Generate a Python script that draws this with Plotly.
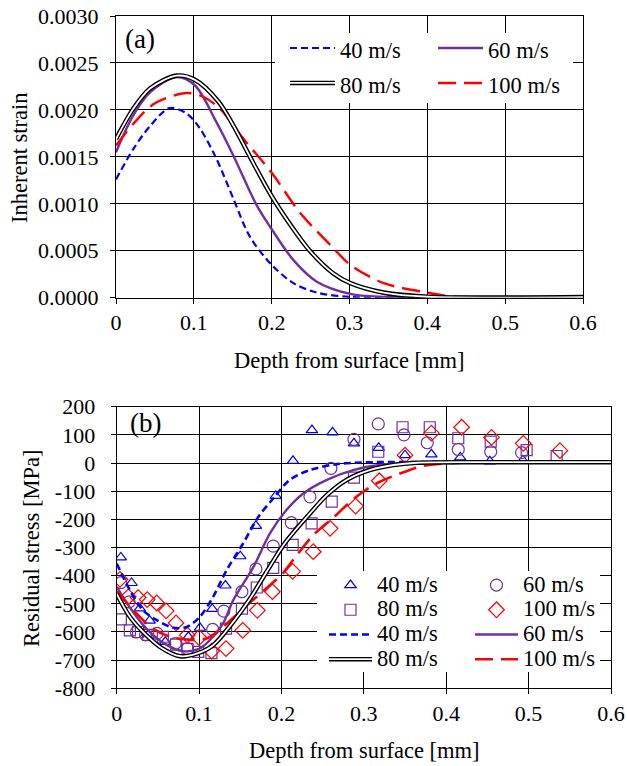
import plotly.graph_objects as go

# ---------------- panel (a): inherent strain ----------------
depth_a_40 = [0, 0.022, 0.044, 0.069, 0.091, 0.108, 0.129, 0.151, 0.172, 0.200, 0.228, 0.258, 0.300, 0.350, 0.600]
strain_40 = [0.00126, 0.00158, 0.00183, 0.00202, 0.00196, 0.00180, 0.00148, 0.00105, 0.00065, 0.00035, 0.000155, 0.000054, 0.000008, 0.000004, 0.000004]

depth_a_60 = [0, 0.022, 0.044, 0.078, 0.1015, 0.129, 0.151, 0.181, 0.200, 0.228, 0.258, 0.301, 0.344, 0.400, 0.600]
strain_60 = [0.00155, 0.00194, 0.00219, 0.00235, 0.00226, 0.00187, 0.00151, 0.00098, 0.00073, 0.00040, 0.00017, 0.00004, 0.000008, 0.000005, 0.000005]

depth_a_80 = [0, 0.022, 0.044, 0.078, 0.1015, 0.1315, 0.151, 0.176, 0.200, 0.228, 0.249, 0.279, 0.301, 0.344, 0.400, 0.600]
strain_80 = [0.00169, 0.00201, 0.00223, 0.002365, 0.00232, 0.00209, 0.00183, 0.00144, 0.00108, 0.00073, 0.00050, 0.00026, 0.000155, 0.000054, 0.00001, 0.000006]

depth_a_100 = [0, 0.022, 0.050, 0.091, 0.112, 0.134, 0.164, 0.200, 0.236, 0.279, 0.301, 0.344, 0.400, 0.430, 0.600]
strain_100 = [0.00162, 0.00185, 0.00207, 0.00218, 0.00214, 0.00201, 0.00169, 0.00133, 0.00091, 0.00053, 0.00035, 0.000155, 0.000054, 0.000015, 0.00001]

# ---------------- panel (b): residual stress ----------------
exp_depth_40 = [0.005, 0.018, 0.028, 0.040, 0.059, 0.087, 0.101, 0.116, 0.132, 0.150, 0.169, 0.193, 0.214, 0.237, 0.262, 0.288, 0.318, 0.350, 0.382, 0.417, 0.453, 0.493]
exp_stress_40 = [-335, -426, -516, -560, -635, -617, -585, -518, -435, -331, -223, -117, 8, 117, 109, 70, 54, 28, 31, 20, 6, 10]

exp_depth_60 = [0.005, 0.015, 0.024, 0.035, 0.049, 0.071, 0.086, 0.1165, 0.130, 0.152, 0.169, 0.190, 0.212, 0.2346, 0.260, 0.288, 0.3175, 0.3487, 0.377, 0.4146, 0.454, 0.4915]
exp_stress_60 = [-425, -493, -600, -610, -605, -641, -659, -591, -526, -457, -376, -295, -212, -120, -19, 84, 139, 100, 72, 48, 40, 37]

exp_depth_80 = [0.005, 0.016, 0.026, 0.038, 0.056, 0.072, 0.086, 0.099, 0.115, 0.1327, 0.152, 0.170, 0.190, 0.2136, 0.2366, 0.261, 0.288, 0.3175, 0.347, 0.380, 0.4146, 0.454, 0.4976, 0.534]
exp_stress_80 = [-555, -594, -600, -610, -617, -645, -660, -671, -675, -588, -517, -442, -372, -291, -214, -137, -52, 40, 127, 127, 88, 76, 46, 25]

exp_depth_100 = [0.004, 0.014, 0.026, 0.037, 0.0485, 0.060, 0.072, 0.0857, 0.100, 0.1153, 0.1327, 0.153, 0.1707, 0.189, 0.2136, 0.2386, 0.259, 0.290, 0.3187, 0.350, 0.382, 0.4187, 0.455, 0.4935, 0.538]
exp_stress_100 = [-413, -475, -478, -485, -497, -525, -568, -611, -620, -668, -659, -594, -523, -457, -385, -315, -232, -153, -63, 28, 106, 127, 91, 70, 44]

sim_depth_40 = [0, 0.016, 0.032, 0.0485, 0.069, 0.085, 0.101, 0.117, 0.1335, 0.1536, 0.172, 0.190, 0.210, 0.2346, 0.267, 0.300, 0.400, 0.600]
sim_stress_40 = [-357, -451, -523, -558, -585, -582, -546, -475, -380, -285, -191, -126, -60, -25, -4, 2, 4, 4]

sim_depth_60 = [0, 0.020, 0.040, 0.060, 0.080, 0.100, 0.113, 0.129, 0.1415, 0.166, 0.186, 0.206, 0.2265, 0.255, 0.287, 0.3195, 0.356, 0.450, 0.600]
sim_stress_60 = [-440, -530, -600, -645, -668, -660, -629, -570, -487, -369, -250, -167, -108, -60, -25, -7, 1, 3, 3]

sim_depth_80 = [0, 0.016, 0.032, 0.0525, 0.077, 0.097, 0.117, 0.1415, 0.162, 0.182, 0.204, 0.2346, 0.255, 0.279, 0.307, 0.336, 0.364, 0.450, 0.600]
sim_stress_80 = [-465, -546, -600, -653, -686, -677, -647, -564, -481, -386, -285, -179, -114, -60, -25, -7, 1, 3, 3]

sim_depth_100 = [0, 0.024, 0.044, 0.065, 0.090, 0.110, 0.129, 0.1435, 0.160, 0.177, 0.2022, 0.2153, 0.240, 0.264, 0.289, 0.317, 0.349, 0.372, 0.400, 0.500, 0.600]
sim_stress_100 = [-455, -534, -588, -617, -628, -622, -582, -544, -500, -457, -390, -340, -252, -191, -124, -70, -32, -10, -1, 4, 4]

depth_ticks = [0, 0.1, 0.2, 0.3, 0.4, 0.5, 0.6]
depth_ticktext = ["0", "0.1", "0.2", "0.3", "0.4", "0.5", "0.6"]
strain_ticks = [0, 0.0005, 0.0010, 0.0015, 0.0020, 0.0025, 0.0030]
strain_ticktext = ["0.0000", "0.0005", "0.0010", "0.0015", "0.0020", "0.0025", "0.0030"]
stress_ticks = list(range(-800, 201, 100))
stress_ticktext = [str(v) for v in stress_ticks]

W, H = 627, 766
SERIF = "Liberation Serif"
BLUE = "#0000FF"
PURPLE = "#7030A0"
RED = "#FF0000"
BLACK = "#000000"
FS = 22.5

def px_x(p):
    return p / W

def px_y(p):
    return (H - p) / H

def big(t):
    return '<span style="font-size:22.5px">' + t + '</span>'

fig = go.Figure()

fig.add_trace(go.Scatter(x=[None], y=[None], mode="lines", name=" ",
                         line=dict(color="rgba(0,0,0,0)", width=2),
                         legend="legend5", legendgroup="ad", hoverinfo="skip"))
fig.add_trace(go.Scatter(x=depth_a_40, y=strain_40, mode="lines", name=big("40 m/s"),
                         line=dict(color=BLUE, width=2.2, dash="7px,4px", shape="spline", smoothing=0.9),
                         legend="legend", legendgroup="a40", xaxis="x", yaxis="y"))
fig.add_trace(go.Scatter(x=depth_a_60, y=strain_60, mode="lines", name=big("60 m/s"),
                         line=dict(color=PURPLE, width=2.4, shape="spline", smoothing=0.9),
                         legend="legend2", legendgroup="a60", xaxis="x", yaxis="y"))
fig.add_trace(go.Scatter(x=depth_a_100, y=strain_100, mode="lines", name=big("100 m/s"),
                         line=dict(color=RED, width=2.4, dash="18px,8px", shape="spline", smoothing=0.9),
                         legend="legend2", legendgroup="a100", xaxis="x", yaxis="y"))
fig.add_trace(go.Scatter(x=depth_a_80, y=strain_80, mode="lines", name=big("80 m/s"),
                         line=dict(color=BLACK, width=4.6, shape="spline", smoothing=0.9),
                         legend="legend", legendgroup="a80", xaxis="x", yaxis="y"))
fig.add_trace(go.Scatter(x=depth_a_80, y=strain_80, mode="lines", name=" ",
                         line=dict(color="white", width=1.8, shape="spline", smoothing=0.9),
                         legend="legend5", legendgroup="a80w", xaxis="x", yaxis="y", hoverinfo="skip"))

fig.add_trace(go.Scatter(x=exp_depth_40, y=exp_stress_40, mode="markers", name=big("40 m/s"),
                         marker=dict(symbol="triangle-up-open", color=BLUE, size=10, line=dict(width=1.2)),
                         legend="legend3", legendgroup="b1", xaxis="x2", yaxis="y2"))
fig.add_trace(go.Scatter(x=exp_depth_60, y=exp_stress_60, mode="markers", name=big("60 m/s"),
                         marker=dict(symbol="circle-open", color=PURPLE, size=12, line=dict(width=1.2)),
                         legend="legend4", legendgroup="b2", xaxis="x2", yaxis="y2"))
fig.add_trace(go.Scatter(x=exp_depth_80, y=exp_stress_80, mode="markers", name=big("80 m/s"),
                         marker=dict(symbol="square-open", color=PURPLE, size=11, line=dict(width=1.2)),
                         legend="legend3", legendgroup="b3", xaxis="x2", yaxis="y2"))
fig.add_trace(go.Scatter(x=exp_depth_100, y=exp_stress_100, mode="markers", name=big("100 m/s"),
                         marker=dict(symbol="diamond-open", color=RED, size=12, line=dict(width=1.2)),
                         legend="legend4", legendgroup="b4", xaxis="x2", yaxis="y2"))
fig.add_trace(go.Scatter(x=sim_depth_40, y=sim_stress_40, mode="lines", name=big("40 m/s"),
                         line=dict(color=BLUE, width=2.6, dash="7px,4px", shape="spline", smoothing=0.9),
                         legend="legend3", legendgroup="b5", xaxis="x2", yaxis="y2"))
fig.add_trace(go.Scatter(x=sim_depth_60, y=sim_stress_60, mode="lines", name=big("60 m/s"),
                         line=dict(color=PURPLE, width=2.4, shape="spline", smoothing=0.9),
                         legend="legend4", legendgroup="b6", xaxis="x2", yaxis="y2"))
fig.add_trace(go.Scatter(x=sim_depth_100, y=sim_stress_100, mode="lines", name=big("100 m/s"),
                         line=dict(color=RED, width=2.6, dash="18px,8px", shape="spline", smoothing=0.9),
                         legend="legend4", legendgroup="b8", xaxis="x2", yaxis="y2"))
fig.add_trace(go.Scatter(x=sim_depth_80, y=sim_stress_80, mode="lines", name=big("80 m/s"),
                         line=dict(color=BLACK, width=4.6, shape="spline", smoothing=0.9),
                         legend="legend3", legendgroup="b7", xaxis="x2", yaxis="y2"))
for g in ["d1", "d2", "d3"]:
    fig.add_trace(go.Scatter(x=[None], y=[None], mode="lines", name=" ",
                             line=dict(color="rgba(0,0,0,0)", width=2),
                             legend="legend6", legendgroup=g, xaxis="x2", yaxis="y2", hoverinfo="skip"))
fig.add_trace(go.Scatter(x=sim_depth_80, y=sim_stress_80, mode="lines", name=" ",
                         line=dict(color="white", width=1.8, shape="spline", smoothing=0.9),
                         legend="legend6", legendgroup="b7w", xaxis="x2", yaxis="y2", hoverinfo="skip"))

axis_common = dict(
    showgrid=True, gridcolor=BLACK, gridwidth=1,
    showline=True, linecolor=BLACK, linewidth=1.3, mirror=True,
    ticks="outside", ticklen=5, tickcolor=BLACK, tickwidth=1.2,
    zeroline=False, tickfont=dict(family=SERIF, size=22, color=BLACK),
    tickmode="array", automargin=False,
)

fig.update_layout(
    width=W, height=H,
    margin=dict(l=0, r=0, t=0, b=0, pad=0),
    paper_bgcolor="white", plot_bgcolor="white",
    font=dict(family=SERIF, size=FS, color=BLACK),
    xaxis=dict(domain=[px_x(116), px_x(583)], range=[0, 0.6], anchor="y",
               tickvals=depth_ticks, ticktext=depth_ticktext, **axis_common),
    yaxis=dict(domain=[px_y(297.7), px_y(16)], range=[0, 0.003], anchor="x",
               tickvals=strain_ticks, ticktext=strain_ticktext, ticklabelstandoff=7, **axis_common),
    xaxis2=dict(domain=[px_x(116.7), px_x(611)], range=[0, 0.6], anchor="y2",
                tickvals=depth_ticks, ticktext=depth_ticktext, **axis_common),
    yaxis2=dict(domain=[px_y(688.3), px_y(406.7)], range=[-800, 200], anchor="x2",
                tickvals=stress_ticks, ticktext=stress_ticktext, ticklabelstandoff=11, **axis_common),
    showlegend=True,
)

leg_top = dict(bgcolor="rgba(0,0,0,0)", borderwidth=0, itemwidth=45,
               font=dict(family=SERIF, size=24.6, color=BLACK),
               tracegroupgap=0, traceorder="grouped",
               xanchor="left", yanchor="top", itemclick=False, itemdoubleclick=False)
leg_bot = dict(bgcolor="rgba(0,0,0,0)", borderwidth=0, itemwidth=43,
               font=dict(family=SERIF, size=16.7, color=BLACK),
               tracegroupgap=0, traceorder="grouped",
               xanchor="left", yanchor="top", itemclick=False, itemdoubleclick=False)

TOP_LEG_Y = 25.5
BOT_LEG_Y = 567.7
fig.update_layout(
    legend=dict(x=px_x(285), y=px_y(TOP_LEG_Y), **leg_top),
    legend2=dict(x=px_x(433), y=px_y(TOP_LEG_Y), **leg_top),
    legend5=dict(x=px_x(285), y=px_y(TOP_LEG_Y), **leg_top),
    legend3=dict(x=px_x(324), y=px_y(BOT_LEG_Y), **leg_bot),
    legend4=dict(x=px_x(470), y=px_y(BOT_LEG_Y), **leg_bot),
    legend6=dict(x=px_x(324), y=px_y(BOT_LEG_Y), **leg_bot),
)

fig.add_shape(type="rect", xref="paper", yref="paper",
              x0=px_x(275), x1=px_x(573), y0=px_y(103), y1=px_y(33),
              fillcolor="white", line=dict(width=0), layer="above")
fig.add_shape(type="rect", xref="paper", yref="paper",
              x0=px_x(317), x1=px_x(600), y0=px_y(672), y1=px_y(571),
              fillcolor="white", line=dict(width=0), layer="above")

fig.add_annotation(text="Depth from surface [mm]", xref="paper", yref="paper",
                   x=px_x(349.5), y=px_y(360), xanchor="center", yanchor="middle",
                   showarrow=False, font=dict(family=SERIF, size=FS))
fig.add_annotation(text="Depth from surface [mm]", xref="paper", yref="paper",
                   x=px_x(364), y=px_y(750), xanchor="center", yanchor="middle",
                   showarrow=False, font=dict(family=SERIF, size=FS))
fig.add_annotation(text="Inherent strain", xref="paper", yref="paper",
                   x=px_x(19), y=px_y(158), xanchor="center", yanchor="middle", textangle=-90,
                   showarrow=False, font=dict(family=SERIF, size=FS))
fig.add_annotation(text="Residual stress [MPa]", xref="paper", yref="paper",
                   x=px_x(31), y=px_y(549), xanchor="center", yanchor="middle", textangle=-90,
                   showarrow=False, font=dict(family=SERIF, size=FS))
fig.add_annotation(text="(a)", xref="paper", yref="paper",
                   x=px_x(123), y=px_y(39), xanchor="left", yanchor="middle",
                   showarrow=False, font=dict(family=SERIF, size=27))
fig.add_annotation(text="(b)", xref="paper", yref="paper",
                   x=px_x(128), y=px_y(423), xanchor="left", yanchor="middle",
                   showarrow=False, font=dict(family=SERIF, size=27))

fig.write_html("out.html", post_script="document.body.style.margin='0px';")
